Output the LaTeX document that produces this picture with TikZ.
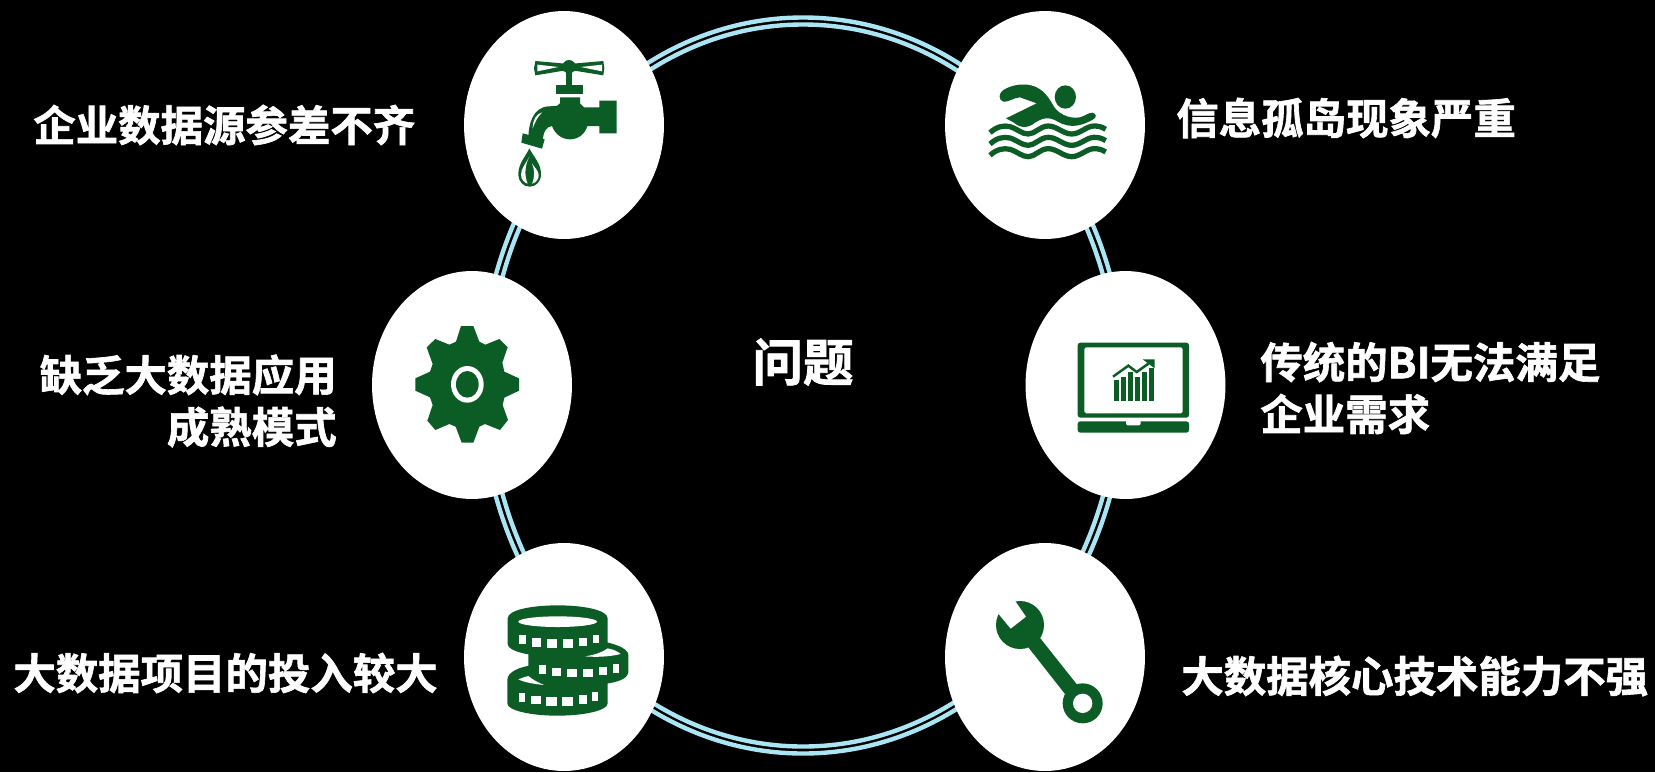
\documentclass[tikz,border=0pt]{standalone}
\usepackage{fontspec}
\setmainfont{Noto Sans CJK SC}[BoldFont={Noto Sans CJK SC Bold},BoldFeatures={FakeBold=1.5}]
\usetikzlibrary{shapes.geometric}
\definecolor{icongreen}{HTML}{0B5D25}
\definecolor{ringblue}{HTML}{A9E5F3}
\tikzset{
  disc/.style={ellipse,fill=white,draw=none,inner sep=0pt,minimum width=4cm,minimum height=4.56cm},
  ringline/.style={draw=ringblue,line width=2.5pt},
  label/.style={text=white,font=\fontsize{24.15}{29.6}\selectfont\bfseries,inner sep=0pt},
  ico/.style={fill=icongreen,draw=none},
  hole/.style={fill=white,draw=none},
  wave/.style={draw=icongreen,line width=3pt},
}
\begin{document}
\begin{tikzpicture}[x=0.02cm,y=-0.02cm]
\fill[black] (0,0) rectangle (1655,772);
\useasboundingbox (0,0) rectangle (1655,772);
% ring
\draw[ringline] (803,385.5) ellipse [x radius=322,y radius=368];
\draw[ringline] (803,385.5) ellipse [x radius=315,y radius=361];
% discs
\node[disc] (tl) at (564,125) {};
\node[disc] (tr) at (1045,125) {};
\node[disc] (ml) at (472,385) {};
\node[disc] (mr) at (1125.5,385) {};
\node[disc] (bl) at (564,657) {};
\node[disc] (br) at (1045,657) {};
% faucet
\begin{scope}[shift={(460,0)},scale=1/3]
\fill[ico] (226,183) -- (305,190) -- (350,190) -- (430,183) -- (433,205) -- (430,226) -- (350,213) -- (305,213) -- (226,226) -- (222,205) -- cycle;
\fill[hole] (232,194) -- (295,201) -- (232,214) -- cycle;
\fill[hole] (426,194) -- (362,201) -- (426,214) -- cycle;
\fill[ico] (327,200) circle [radius=20];
\fill[ico] (318,215) rectangle (336,256);
\fill[ico] (288,255) rectangle (370,281);
\fill[ico] (300,292) -- (360,292) -- (360,310) -- (372,322) -- (418,322) -- (418,302) -- (470,302) -- (470,400) -- (418,400) -- (418,378) -- (382,378)
  .. controls (375,402) and (355,418) .. (330,418) .. controls (305,418) and (285,402) .. (276,378)
  .. controls (258,380) and (250,395) .. (248,425) -- (205,415)
  .. controls (205,370) and (220,322) .. (265,319) -- (290,318) -- (300,310) -- cycle;
\fill[ico] (188,400) -- (254,418) -- (246,446) -- (184,428) -- cycle;
\fill[hole] (218,385) .. controls (218,360) and (228,342) .. (247,337) .. controls (232,350) and (226,365) .. (218,385) -- cycle;
\fill[ico] (208,445) .. controls (220,470) and (243,490) .. (243,522) .. controls (243,545) and (228,560) .. (209,560) .. controls (190,560) and (175,545) .. (175,522) .. controls (175,490) and (197,470) .. (208,445) -- cycle;
\fill[hole] (208,470) .. controls (198,490) and (183,505) .. (183,524) .. controls (183,538) and (192,548) .. (203,551) .. controls (192,525) and (195,495) .. (208,470) -- cycle;
\fill[hole] (216,490) .. controls (225,505) and (236,512) .. (236,526) .. controls (236,538) and (228,548) .. (216,551) .. controls (225,530) and (224,510) .. (216,490) -- cycle;
\end{scope}
% swimmer
\begin{scope}[shift={(940,0)},scale=1/3]
\fill[ico] (376,291) ellipse [x radius=32,y radius=35];
\fill[ico] (190,305) .. controls (175,300) and (175,280) .. (190,270) .. controls (215,255) and (240,252) .. (262,254) .. controls (300,258) and (322,285) .. (336,310) .. controls (350,340) and (385,358) .. (420,352) .. controls (435,348) and (445,338) .. (458,338) .. controls (470,342) and (470,352) .. (460,358) .. controls (430,375) and (395,388) .. (355,366) .. controls (330,350) and (310,352) .. (285,368) .. controls (265,385) and (240,385) .. (222,368) -- (198,355) -- (290,310) -- (240,292) .. controls (222,292) and (205,308) .. (190,305) -- cycle;
\foreach \wy in {0,34,68}{
\draw[wave] (150,398+\wy) .. controls (170,380+\wy) and (190,375+\wy) .. (210,380+\wy) .. controls (235,388+\wy) and (245,402+\wy) .. (265,402+\wy) .. controls (285,402+\wy) and (300,378+\wy) .. (325,378+\wy) .. controls (350,378+\wy) and (370,402+\wy) .. (395,402+\wy) .. controls (420,402+\wy) and (440,378+\wy) .. (462,378+\wy) .. controls (475,378+\wy) and (485,380+\wy) .. (497,388+\wy);
}
\end{scope}
% gear
\begin{scope}[shift={(370,270)},scale=1/3]
\fill[ico] (273,168) -- (310,168) -- (328,215) -- (346,224) -- (388,207) -- (413,232) -- (397,278) -- (403,305) -- (447,325) -- (447,362) -- (403,383) -- (398,405) -- (414,450) -- (390,480) -- (345,462) -- (328,470) -- (310,518) -- (275,518) -- (257,470) -- (238,462) -- (196,480) -- (172,452) -- (188,405) -- (180,382) -- (136,362) -- (136,325) -- (180,305) -- (188,282) -- (170,232) -- (196,207) -- (238,224) -- (258,215) -- cycle;
\fill[hole] (292,343) ellipse [x radius=49,y radius=55];
\fill[ico] (292,343) ellipse [x radius=34,y radius=40];
\end{scope}
% laptop
\begin{scope}[shift={(1020,270)},scale=1/3]
\fill[ico,rounded corners=1.5pt] (173,218) rectangle (507,443);
\fill[hole,rounded corners=1pt] (193,232) rectangle (488,430);
\fill[ico,rounded corners=1.5pt] (173,454) rectangle (507,488);
\fill[hole,rounded corners=0.8pt] (318,450) rectangle (362,466);
\fill[ico] (282,330) rectangle (298,394);
\fill[ico] (303,320) rectangle (318,394);
\fill[ico] (324,307) rectangle (340,394);
\fill[ico] (345,320) rectangle (361,394);
\fill[ico] (366,307) rectangle (382,394);
\fill[ico] (387,295) rectangle (403,394);
\draw[draw=icongreen,line width=1.4pt] (279,320) -- (325,287) -- (350,306) -- (385,281);
\fill[ico] (368,268) -- (404,268) -- (404,295) -- cycle;
\end{scope}
% coins
\begin{scope}[shift={(460,540)},scale=1/3]
\fill[ico] (205,300) .. controls (300,280) and (505,300) .. (505,345) -- (505,395) .. controls (505,425) and (440,435) .. (360,437) -- (205,400) -- cycle;
\fill[ico] (142,420) .. controls (142,395) and (180,380) .. (220,375) -- (443,420) -- (443,490) .. controls (443,512) and (370,527) .. (292,527) .. controls (215,527) and (142,512) .. (142,490) -- cycle;
\fill[ico] (143,235) .. controls (143,210) and (215,196) .. (293,196) .. controls (370,196) and (443,210) .. (443,235) -- (443,312) .. controls (443,335) and (370,350) .. (293,350) .. controls (215,350) and (143,335) .. (143,312) -- cycle;
\fill[hole] (293,245) ellipse [x radius=118,y radius=16];
\foreach \a/\b/\c/\d in {178/286/197/312,215/295/243/320,262/298/292/323,310/298/340/323,358/294/382/318,400/284/417/310,
  238/375/257/402,275/383/303/408,322/387/352/412,369/386/400/411,418/381/441/406,459/372/477/398,
  177/459/196/485,213/467/242/493,259/472/290/497,307/471/339/497,356/466/380/491,397/457/415/483}{
  \fill[hole] (\a,\b) rectangle (\c,\d);
}
\fill[hole] (375,349) .. controls (405,345) and (430,335) .. (443,325) .. controls (460,328) and (475,335) .. (482,342) .. controls (450,350) and (410,352) .. (375,349) -- cycle;
\fill[hole] (175,418) .. controls (185,414) and (195,410) .. (205,408) .. controls (220,420) and (235,428) .. (252,435) .. controls (225,432) and (195,428) .. (175,418) -- cycle;
\end{scope}
% wrench
\begin{scope}[shift={(940,540)},scale=1/3]
\fill[ico] (240,255) circle [radius=72];
\fill[hole] (222,178) -- (258,230) -- (212,266) -- (170,215) -- (190,170) -- cycle;
\fill[ico] (297,290) -- (412,435) -- (375,462) -- (265,322) -- cycle;
\fill[ico] (428,490) circle [radius=60];
\fill[hole] (428,490) circle [radius=29];
\end{scope}
% labels
\node[label,anchor=west] (t1) at (33,125) {企业数据源参差不齐};
\node[label,anchor=west] (t2) at (1176,118) {信息孤岛现象严重};
\node[label,anchor=east,align=right] (t3) at (337,401) {缺乏大数据应用\\成熟模式};
\node[label,anchor=west,align=left] (t4) at (1260,388) {传统的BI无法满足\\企业需求};
\node[label,anchor=west] (t5) at (13,673) {大数据项目的投入较大};
\node[label,anchor=west] (t6) at (1181,676) {大数据核心技术能力不强};
\node[label,font=\fontsize{28.8}{34}\selectfont\bfseries] (t0) at (803,362) {问题};
\end{tikzpicture}
\end{document}
